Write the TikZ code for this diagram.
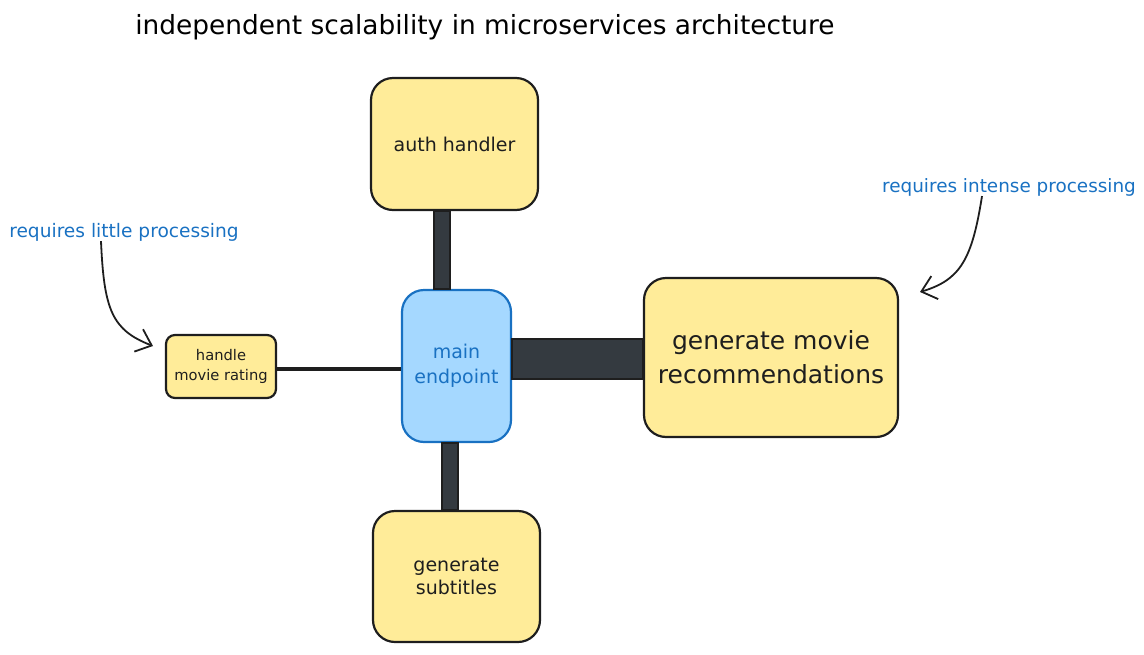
\documentclass[tikz,border=0pt]{standalone}
\usepackage{fontspec}
\setmainfont{DejaVu Sans}
\usetikzlibrary{arrows.meta}

\definecolor{boxyellow}{HTML}{FFEC99}
\definecolor{boxblue}{HTML}{A5D8FF}
\definecolor{noteblue}{HTML}{1971C2}
\definecolor{ink}{HTML}{1E1E1E}
\definecolor{barfill}{HTML}{343A40}

\def\fs#1#2{\fontsize{#1}{#2}\selectfont}

\begin{document}
\begin{tikzpicture}[x=1pt,y=-1pt,
    service/.style={draw=ink, line width=2.2pt, fill=boxyellow, rounded corners=22pt,
      align=center, text=ink, inner sep=0pt},
    bar/.style={draw=ink, line width=1.5pt, fill=barfill},
    note/.style={text=noteblue, inner sep=0pt},
    pointer/.style={draw=ink, line width=1.8pt, -{Straight Barb[length=14pt,width=24pt]}}]
    \useasboundingbox (0,0) rectangle (1144,654);

    \node[font=\fs{26.4}{30}] (title) at (485,27) {independent scalability in microservices architecture};

    \node[service, font=\fs{19}{22}, minimum width=167pt, minimum height=132pt] (auth) at (454.5,144) {auth handler};
    \node[service, font=\fs{19}{25}, draw=noteblue, fill=boxblue, text=noteblue, minimum width=109pt, minimum height=152pt] (main) at (456.5,366) {main\\endpoint};
    \node[service, font=\fs{14.7}{20}, rounded corners=9pt, minimum width=110pt, minimum height=63pt] (rating) at (221,366.5) {handle\\movie rating};
    \node[service, font=\fs{25}{34}, minimum width=254pt, minimum height=159pt] (recs) at (771,357.5) {generate movie\\recommendations};
    \node[service, font=\fs{19}{23}, minimum width=167pt, minimum height=131pt] (subs) at (456.5,576.5) {generate\\subtitles};

    \draw[bar] (auth.south -| 434,0) rectangle (main.north -| 450,0);
    \draw[bar] (main.south -| 442,0) rectangle (subs.north -| 458,0);
    \draw[bar] (main.east |- 0,339) rectangle (recs.west |- 0,379);
    \draw[ink, line width=4pt] (rating.east |- 0,369) -- (main.west |- 0,369);

    \node[note, font=\fs{18.6}{22}] (little) at (124,232) {requires little processing};
    \node[note, font=\fs{18.4}{22}] (intense) at (1009,187) {requires intense processing};

    \coordinate (littletip) at (153,346);
    \coordinate (intensetip) at (920,292);
    \draw[pointer] (little.south -| 101,0) .. controls (104,310) and (112,330) .. (littletip);
    \draw[pointer] (intense.south -| 982,0) .. controls (972,260) and (960,280) .. (intensetip);
\end{tikzpicture}
\end{document}
